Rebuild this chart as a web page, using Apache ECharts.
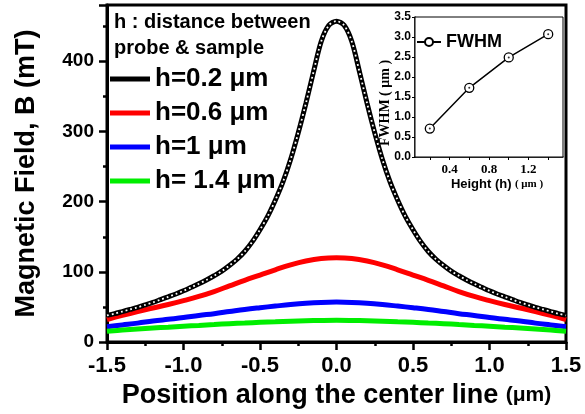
<!DOCTYPE html>
<html>
<head>
<meta charset="utf-8">
<script src="https://cdn.jsdelivr.net/npm/echarts@6/dist/echarts.min.js"></script>
<style>html,body{margin:0;padding:0;background:#fff}#c{width:585px;height:414px}</style>
</head>
<body>
<div id="c"></div>
<script>
// ---- data ----
const xMain = [-1.5,-1.4,-1.3,-1.2,-1.1,-1.0,-0.9,-0.8,-0.7,-0.6,-0.5,-0.4,-0.3,-0.2,-0.1,0,0.1,0.2,0.3,0.4,0.5,0.6,0.7,0.8,0.9,1.0,1.1,1.2,1.3,1.4,1.5];
const xBlack = [-1.5,-1.45,-1.4,-1.35,-1.3,-1.25,-1.2,-1.15,-1.1,-1.05,-1.0,-0.95,-0.9,-0.85,-0.8,-0.75,-0.7,-0.65,-0.6,-0.55,-0.5,-0.45,-0.4,-0.35,-0.3,-0.25,-0.2,-0.15,-0.1,-0.05,0,0.05,0.1,0.15,0.2,0.25,0.3,0.35,0.4,0.45,0.5,0.55,0.6,0.65,0.7,0.75,0.8,0.85,0.9,0.95,1.0,1.05,1.1,1.15,1.2,1.25,1.3,1.35,1.4,1.45,1.5];
const bH02 = [38,40.5,43.5,46.5,49.5,53,56.5,60.5,64.5,68.5,73,78,83,88.5,94.5,101,109,118,129,143,160,179,202,228,260,298,340,385,428,451,457,451,428,385,340,298,260,228,202,179,160,143,129,118,109,101,94.5,88.5,83,78,73,68.5,64.5,60.5,56.5,53,49.5,46.5,43.5,40.5,38];
const bH06 = [32,38,43.5,48.5,53.5,59,65,72,80,88,95.5,103,110,115.5,119,120,119,115.5,110,103,95.5,88,80,72,65,59,53.5,48.5,43.5,38,32];
const bH10 = [22,24.5,27,30,32.5,35,38,40.5,43.5,46.5,49,51.3,53.5,55.3,56.5,57,56.5,55.3,53.5,51.3,49,46.5,43.5,40.5,38,35,32.5,30,27,24.5,22];
const bH14 = [15.5,17.1,18.6,20,21.3,22.6,23.8,25,26.2,27.2,28.2,29,29.8,30.4,30.8,31,30.8,30.4,29.8,29,28.2,27.2,26.2,25,23.8,22.6,21.3,20,18.6,17.1,15.5];
const seriesNames = ['h=0.2 μm','h=0.6 μm','h=1 μm','h= 1.4 μm'];
const xTickLabels = ['-1.5','-1.0','-0.5','0.0','0.5','1.0','1.5'];
const yTickLabels = ['0','100','200','300','400'];
const insetH = [0.2,0.6,1.0,1.4];
const insetFWHM = [0.71,1.73,2.49,3.07];
const insetXLabels = [0.4,0.8,1.2];
const insetXTicks = [0.2,0.4,0.6,0.8,1.0,1.2,1.4];

const zip = (xs, ys) => xs.map((x,i)=>[x, ys[i]]);
const SANS = 'Liberation Sans, Arial, sans-serif';
const SERIF = 'Liberation Serif, Times New Roman, serif';

const chart = echarts.init(document.getElementById('c'), null, {renderer:'canvas'});
chart.setOption({
  animation: false,
  backgroundColor: '#fff',
  title: {
    text: 'h : distance between\nprobe & sample',
    left: 114, top: 9, padding: 0,
    textStyle: {fontFamily: SANS, fontWeight: 'bold', fontSize: 20, lineHeight: 26, color: '#000'}
  },
  legend: [{
    data: seriesNames,
    orient: 'vertical',
    left: 110, top: 66, padding: 0,
    icon: 'rect',
    itemWidth: 40, itemHeight: 5,
    itemGap: 8,
    textStyle: {fontFamily: SANS, fontWeight: 'bold', fontSize: 26, lineHeight: 26, color: '#000'}
  },{
    data: ['FWHM'],
    left: 416, top: 33, padding: 0, z: 20,
    itemWidth: 24, itemHeight: 10,
    textStyle: {fontFamily: SANS, fontWeight: 'bold', fontSize: 18, color: '#000'}
  }],
  grid: [
    {left: 107, right: 19, top: 5, bottom: 71, show: true, borderColor: '#000', borderWidth: 3, containLabel: false},
    {left: 415, right: 22, top: 17, bottom: 257, show: true, borderColor: '#000', borderWidth: 1, backgroundColor: '#fff', z: 5}
  ],
  xAxis: [{
    gridIndex: 0, type: 'value', min: -1.5, max: 1.5, interval: 0.5,
    name: 'Position along the center line {s|(μm)}',
    nameLocation: 'middle', nameGap: 38,
    nameTextStyle: {fontFamily: SANS, fontWeight: 'bold', fontSize: 27, color: '#000',
      rich: {s: {fontFamily: SANS, fontWeight: 'bold', fontSize: 21, color: '#000'}}},
    axisLine: {show: true, onZero: false, lineStyle: {color: '#000', width: 3}},
    axisTick: {show: true, inside: false, length: 8, lineStyle: {color: '#000', width: 2.5}},
    minorTick: {show: true, splitNumber: 2, length: 4, lineStyle: {color: '#000', width: 2.5}},
    axisLabel: {margin: 13, fontFamily: SANS, fontWeight: 'bold', fontSize: 22, color: '#000',
      formatter: v => xTickLabels[Math.round((v + 1.5) / 0.5)] || ''},
    splitLine: {show: false}
  },{
    gridIndex: 1, type: 'value', min: 0.05, max: 1.55,
    axisLine: {show: true, onZero: false, lineStyle: {color: '#000', width: 1.5}},
    axisTick: {show: true, length: 3, customValues: insetXTicks, lineStyle: {color: '#000', width: 1}},
    axisLabel: {margin: 6, customValues: insetXLabels, fontFamily: SERIF, fontWeight: 'bold', fontSize: 13, color: '#000',
      formatter: v => v.toFixed(1)},
    splitLine: {show: false}
  }],
  yAxis: [{
    gridIndex: 0, type: 'value', min: 0, max: 480, interval: 100,
    name: 'Magnetic Field, B (mT)',
    nameLocation: 'middle', nameGap: 67,
    nameTextStyle: {fontFamily: SANS, fontWeight: 'bold', fontSize: 27, color: '#000'},
    axisLine: {show: true, onZero: false, lineStyle: {color: '#000', width: 3}},
    axisTick: {show: true, length: 8, lineStyle: {color: '#000', width: 2.5}},
    minorTick: {show: true, splitNumber: 2, length: 4, lineStyle: {color: '#000', width: 2.5}},
    axisLabel: {margin: 13, fontFamily: SANS, fontWeight: 'bold', fontSize: 19, color: '#000', showMaxLabel: false,
      formatter: v => (v % 100 === 0 && v <= 400) ? yTickLabels[v / 100] : ''},
    splitLine: {show: false}
  },{
    gridIndex: 1, type: 'value', min: 0, max: 3.5, interval: 0.5,
    axisLine: {show: true, onZero: false, lineStyle: {color: '#000', width: 1.5}},
    axisTick: {show: true, length: 3, lineStyle: {color: '#000', width: 1}},
    axisLabel: {margin: 4, fontFamily: SANS, fontWeight: 'bold', fontSize: 12, color: '#000',
      formatter: v => v.toFixed(1)},
    splitLine: {show: false}
  }],
  graphic: [
    {type: 'text', x: 385, y: 103, rotation: Math.PI / 2, z: 100,
      style: {text: 'FWHM ( μm )', font: 'bold 14px ' + SERIF, fill: '#000', textAlign: 'center', textVerticalAlign: 'middle'}},
    {type: 'text', x: 497, y: 184, z: 100,
      style: {text: '{a|Height (h)} {b|( μm )}', textAlign: 'center', textVerticalAlign: 'middle',
        rich: {a: {fontFamily: SANS, fontWeight: 'bold', fontSize: 13, fill: '#000'},
               b: {fontFamily: SERIF, fontWeight: 'bold', fontSize: 11, fill: '#000'}}}}
  ],
  series: [
    {name: seriesNames[0], type: 'line', xAxisIndex: 0, yAxisIndex: 0, data: zip(xBlack, bH02), smooth: 0.3,
      showSymbol: false, symbol: 'none', color: '#000', lineStyle: {color: '#000', width: 5}, z: 4},
    {name: 'dots', type: 'line', xAxisIndex: 0, yAxisIndex: 0, data: zip(xBlack, bH02), smooth: 0.3,
      showSymbol: false, symbol: 'none', lineStyle: {color: '#fff', width: 1.8, type: [1.8, 3]}, z: 5, silent: true},
    {name: seriesNames[1], type: 'line', xAxisIndex: 0, yAxisIndex: 0, data: zip(xMain, bH06), smooth: 0.4,
      showSymbol: false, symbol: 'none', color: '#ff0000', lineStyle: {color: '#ff0000', width: 5}, z: 3},
    {name: seriesNames[2], type: 'line', xAxisIndex: 0, yAxisIndex: 0, data: zip(xMain, bH10), smooth: 0.4,
      showSymbol: false, symbol: 'none', color: '#0000ff', lineStyle: {color: '#0000ff', width: 5}, z: 3},
    {name: seriesNames[3], type: 'line', xAxisIndex: 0, yAxisIndex: 0, data: zip(xMain, bH14), smooth: 0.4,
      showSymbol: false, symbol: 'none', color: '#00ee00', lineStyle: {color: '#00ee00', width: 5}, z: 3},
    {name: 'FWHM', type: 'line', xAxisIndex: 1, yAxisIndex: 1, data: zip(insetH, insetFWHM),
      symbol: 'circle', symbolSize: 9, showSymbol: true, color: '#000',
      lineStyle: {color: '#000', width: 1.5}, itemStyle: {color: '#fff', borderColor: '#000', borderWidth: 1.3}, z: 10},
    {name: 'FWHMdot', type: 'scatter', xAxisIndex: 1, yAxisIndex: 1, data: zip(insetH, insetFWHM),
      symbol: 'circle', symbolSize: 2, itemStyle: {color: '#000'}, z: 11, silent: true}
  ]
});
</script>
</body>
</html>
